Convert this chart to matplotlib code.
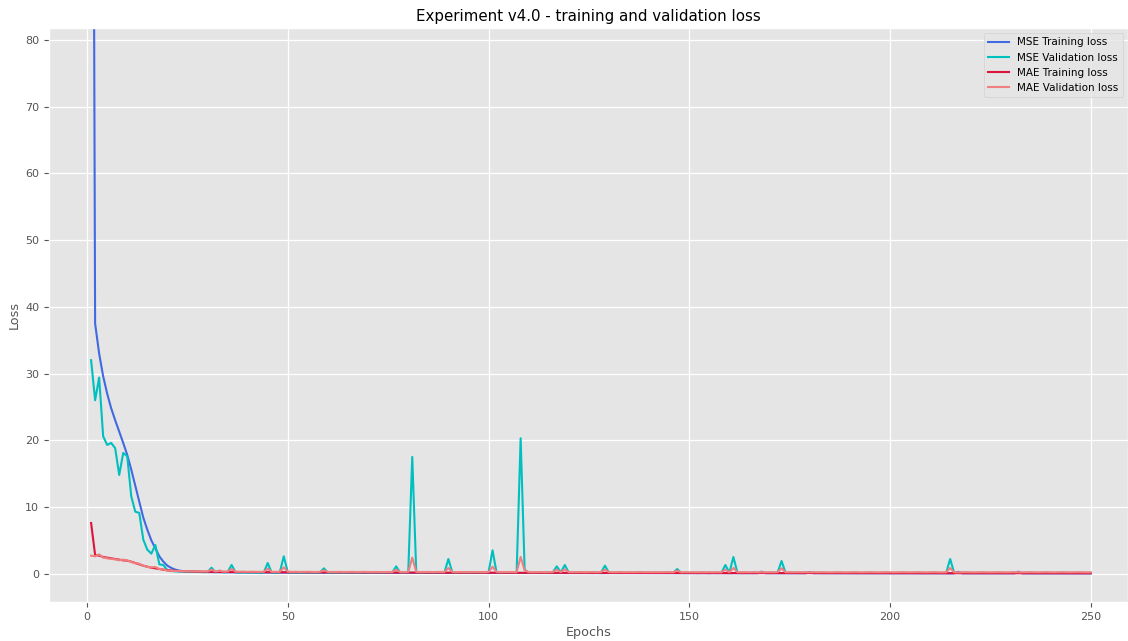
import numpy as np
import matplotlib
matplotlib.use('Agg')
from matplotlib import pyplot as plt

# loss values per epoch (1..250)
mse_train = [
    220, 37.5, 33.0, 29.6, 27.0, 24.8, 23.0, 21.3, 19.6, 17.8,
    15.6, 13.2, 10.8, 8.4, 6.6, 5.0, 3.8, 2.6, 1.8, 1.2,
    0.85, 0.6, 0.45, 0.38, 0.33, 0.30, 0.28, 0.26, 0.25, 0.24,
    0.23, 0.22, 0.22, 0.21, 0.20, 0.20, 0.19, 0.19, 0.18, 0.18,
    0.18, 0.17, 0.17, 0.17, 0.16, 0.16, 0.16, 0.15, 0.15, 0.15,
    0.15, 0.14, 0.15, 0.14, 0.14, 0.15, 0.14, 0.13, 0.14, 0.14,
    0.13, 0.14, 0.13, 0.13, 0.14, 0.13, 0.13, 0.12, 0.13, 0.13,
    0.12, 0.13, 0.12, 0.12, 0.13, 0.12, 0.12, 0.13, 0.12, 0.12,
    0.12, 0.11, 0.12, 0.12, 0.11, 0.12, 0.11, 0.11, 0.12, 0.11,
    0.11, 0.12, 0.11, 0.11, 0.10, 0.11, 0.11, 0.10, 0.11, 0.10,
    0.11, 0.10, 0.10, 0.11, 0.10, 0.10, 0.11, 0.10, 0.10, 0.10,
    0.10, 0.09, 0.10, 0.10, 0.09, 0.10, 0.09, 0.10, 0.09, 0.09,
    0.10, 0.09, 0.09, 0.09, 0.10, 0.09, 0.09, 0.08, 0.09, 0.09,
    0.09, 0.08, 0.09, 0.09, 0.08, 0.09, 0.08, 0.08, 0.09, 0.08,
    0.08, 0.09, 0.08, 0.08, 0.08, 0.09, 0.08, 0.08, 0.07, 0.08,
    0.08, 0.07, 0.08, 0.08, 0.07, 0.08, 0.07, 0.08, 0.07, 0.07,
    0.08, 0.07, 0.07, 0.07, 0.08, 0.07, 0.07, 0.30, 0.07, 0.07,
    0.07, 0.06, 0.07, 0.07, 0.06, 0.07, 0.06, 0.07, 0.06, 0.25,
    0.06, 0.07, 0.06, 0.06, 0.06, 0.07, 0.06, 0.06, 0.06, 0.06,
    0.06, 0.06, 0.05, 0.06, 0.06, 0.05, 0.06, 0.06, 0.05, 0.06,
    0.05, 0.06, 0.05, 0.05, 0.06, 0.05, 0.05, 0.05, 0.06, 0.05,
    0.05, 0.05, 0.05, 0.05, 0.04, 0.05, 0.28, 0.05, 0.05, 0.04,
    0.05, 0.04, 0.05, 0.05, 0.04, 0.05, 0.04, 0.05, 0.04, 0.04,
    0.05, 0.30, 0.04, 0.04, 0.05, 0.04, 0.04, 0.04, 0.05, 0.04,
    0.04, 0.04, 0.04, 0.05, 0.04, 0.04, 0.04, 0.04, 0.04, 0.04,
]

mse_val = [
    32.0, 26.0, 29.4, 20.6, 19.3, 19.6, 18.8, 14.8, 18.1, 17.6,
    11.6, 9.3, 9.1, 5.1, 3.6, 3.0, 4.3, 1.4, 1.3, 0.5,
    0.40, 0.35, 0.30, 0.30, 0.28, 0.25, 0.30, 0.25, 0.22, 0.25,
    0.90, 0.20, 0.45, 0.20, 0.25, 1.30, 0.20, 0.15, 0.20, 0.15,
    0.20, 0.15, 0.12, 0.15, 1.60, 0.12, 0.15, 0.20, 2.60, 0.20,
    0.15, 0.20, 0.12, 0.15, 0.20, 0.15, 0.12, 0.20, 0.80, 0.15,
    0.12, 0.15, 0.20, 0.12, 0.15, 0.20, 0.12, 0.15, 0.20, 0.15,
    0.12, 0.20, 0.15, 0.12, 0.20, 0.15, 1.10, 0.15, 0.12, 0.20,
    17.5, 0.20, 0.12, 0.15, 0.20, 0.12, 0.15, 0.20, 0.15, 2.20,
    0.15, 0.12, 0.20, 0.15, 0.12, 0.15, 0.20, 0.12, 0.15, 0.20,
    3.50, 0.20, 0.12, 0.15, 0.20, 0.15, 0.12, 20.3, 0.60, 0.15,
    0.12, 0.15, 0.20, 0.12, 0.15, 0.20, 1.10, 0.20, 1.30, 0.15,
    0.12, 0.15, 0.20, 0.12, 0.15, 0.20, 0.12, 0.15, 1.20, 0.15,
    0.12, 0.15, 0.20, 0.12, 0.15, 0.12, 0.15, 0.20, 0.12, 0.15,
    0.12, 0.15, 0.12, 0.15, 0.20, 0.12, 0.70, 0.12, 0.15, 0.12,
    0.15, 0.12, 0.15, 0.12, 0.15, 0.12, 0.15, 0.12, 1.30, 0.15,
    2.50, 0.15, 0.12, 0.15, 0.12, 0.15, 0.12, 0.15, 0.12, 0.15,
    0.12, 0.15, 1.90, 0.12, 0.15, 0.12, 0.15, 0.12, 0.15, 0.12,
    0.15, 0.12, 0.15, 0.12, 0.10, 0.12, 0.15, 0.12, 0.10, 0.12,
    0.15, 0.12, 0.10, 0.12, 0.15, 0.12, 0.10, 0.12, 0.15, 0.12,
    0.10, 0.12, 0.15, 0.12, 0.10, 0.12, 0.15, 0.12, 0.10, 0.12,
    0.15, 0.12, 0.10, 0.12, 2.20, 0.12, 0.10, 0.12, 0.15, 0.12,
    0.10, 0.12, 0.15, 0.12, 0.10, 0.12, 0.15, 0.12, 0.10, 0.12,
    0.15, 0.12, 0.10, 0.12, 0.15, 0.12, 0.10, 0.12, 0.15, 0.12,
    0.10, 0.12, 0.15, 0.12, 0.10, 0.12, 0.15, 0.12, 0.10, 0.12,
]

mae_train = [
    7.6, 2.8, 2.7, 2.5, 2.4, 2.3, 2.2, 2.1, 2.0, 1.95,
    1.8, 1.6, 1.4, 1.2, 1.05, 0.9, 0.8, 0.7, 0.6, 0.52,
    0.46, 0.42, 0.39, 0.36, 0.34, 0.32, 0.31, 0.30, 0.29, 0.28,
    0.28, 0.27, 0.27, 0.26, 0.26, 0.25, 0.25, 0.25, 0.24, 0.24,
    0.24, 0.23, 0.23, 0.23, 0.22, 0.22, 0.22, 0.22, 0.21, 0.21,
    0.21, 0.21, 0.20, 0.21, 0.20, 0.20, 0.20, 0.19, 0.20, 0.19,
    0.19, 0.19, 0.19, 0.18, 0.19, 0.18, 0.18, 0.18, 0.18, 0.17,
    0.18, 0.17, 0.17, 0.17, 0.17, 0.17, 0.16, 0.17, 0.16, 0.16,
    0.16, 0.16, 0.16, 0.16, 0.15, 0.16, 0.15, 0.15, 0.15, 0.15,
    0.15, 0.15, 0.15, 0.14, 0.15, 0.14, 0.14, 0.14, 0.14, 0.14,
    0.14, 0.14, 0.14, 0.13, 0.14, 0.13, 0.13, 0.13, 0.13, 0.13,
    0.13, 0.13, 0.13, 0.13, 0.12, 0.13, 0.12, 0.12, 0.12, 0.12,
    0.12, 0.12, 0.12, 0.12, 0.12, 0.11, 0.12, 0.11, 0.11, 0.11,
    0.11, 0.11, 0.11, 0.11, 0.11, 0.11, 0.10, 0.11, 0.10, 0.10,
    0.10, 0.10, 0.10, 0.10, 0.10, 0.10, 0.10, 0.10, 0.10, 0.10,
    0.10, 0.09, 0.10, 0.09, 0.09, 0.10, 0.09, 0.09, 0.09, 0.09,
    0.09, 0.09, 0.09, 0.09, 0.09, 0.09, 0.09, 0.09, 0.09, 0.09,
    0.09, 0.08, 0.09, 0.08, 0.08, 0.09, 0.08, 0.08, 0.08, 0.08,
    0.08, 0.08, 0.08, 0.08, 0.08, 0.08, 0.08, 0.08, 0.08, 0.08,
    0.08, 0.07, 0.08, 0.07, 0.08, 0.07, 0.07, 0.08, 0.07, 0.07,
    0.07, 0.07, 0.07, 0.07, 0.07, 0.07, 0.07, 0.07, 0.07, 0.07,
    0.07, 0.07, 0.07, 0.07, 0.07, 0.07, 0.07, 0.07, 0.07, 0.07,
    0.07, 0.06, 0.07, 0.06, 0.07, 0.06, 0.06, 0.07, 0.06, 0.06,
    0.06, 0.06, 0.06, 0.06, 0.06, 0.06, 0.06, 0.06, 0.06, 0.06,
    0.06, 0.06, 0.06, 0.06, 0.06, 0.06, 0.06, 0.06, 0.06, 0.06,
]

mae_val = [
    2.7, 2.6, 2.9, 2.4, 2.3, 2.2, 2.15, 2.0, 2.1, 2.0,
    1.75, 1.55, 1.5, 1.2, 1.0, 0.95, 1.0, 0.7, 0.65, 0.45,
    0.42, 0.40, 0.38, 0.38, 0.37, 0.35, 0.36, 0.34, 0.33, 0.34,
    0.60, 0.32, 0.45, 0.31, 0.32, 0.70, 0.30, 0.29, 0.30, 0.28,
    0.29, 0.28, 0.27, 0.28, 0.75, 0.27, 0.28, 0.29, 0.95, 0.30,
    0.27, 0.28, 0.26, 0.27, 0.28, 0.26, 0.25, 0.27, 0.50, 0.26,
    0.25, 0.26, 0.27, 0.25, 0.26, 0.27, 0.25, 0.26, 0.27, 0.25,
    0.24, 0.26, 0.25, 0.24, 0.26, 0.25, 0.60, 0.25, 0.24, 0.26,
    2.40, 0.27, 0.24, 0.25, 0.26, 0.24, 0.25, 0.26, 0.25, 0.85,
    0.25, 0.23, 0.25, 0.24, 0.23, 0.24, 0.25, 0.23, 0.24, 0.25,
    1.05, 0.26, 0.23, 0.24, 0.25, 0.24, 0.23, 2.50, 0.50, 0.24,
    0.22, 0.23, 0.24, 0.22, 0.23, 0.24, 0.60, 0.24, 0.65, 0.23,
    0.22, 0.23, 0.24, 0.22, 0.23, 0.24, 0.22, 0.23, 0.60, 0.23,
    0.21, 0.22, 0.23, 0.21, 0.22, 0.21, 0.22, 0.23, 0.21, 0.22,
    0.21, 0.22, 0.21, 0.22, 0.23, 0.21, 0.45, 0.21, 0.22, 0.21,
    0.22, 0.21, 0.22, 0.21, 0.22, 0.21, 0.22, 0.21, 0.60, 0.22,
    0.85, 0.22, 0.21, 0.22, 0.21, 0.22, 0.21, 0.22, 0.21, 0.22,
    0.21, 0.22, 0.80, 0.21, 0.22, 0.21, 0.22, 0.21, 0.22, 0.21,
    0.22, 0.21, 0.22, 0.21, 0.20, 0.21, 0.22, 0.21, 0.20, 0.21,
    0.22, 0.21, 0.20, 0.21, 0.22, 0.21, 0.20, 0.21, 0.22, 0.21,
    0.20, 0.21, 0.22, 0.21, 0.20, 0.21, 0.22, 0.21, 0.20, 0.21,
    0.22, 0.21, 0.20, 0.21, 0.85, 0.21, 0.20, 0.21, 0.22, 0.21,
    0.20, 0.21, 0.22, 0.21, 0.20, 0.21, 0.22, 0.21, 0.20, 0.21,
    0.22, 0.21, 0.20, 0.21, 0.22, 0.21, 0.20, 0.21, 0.22, 0.21,
    0.20, 0.21, 0.22, 0.21, 0.20, 0.21, 0.22, 0.21, 0.20, 0.21,
]

epochs = np.arange(1, len(mse_train) + 1)


def main():
    plt.style.use('ggplot')
    fig = plt.figure(figsize=(11.28, 6.41), dpi=100)
    ax = fig.add_axes([0.0434, 0.0608, 0.9566, 0.8955])

    ax.plot(epochs, mse_train, color='royalblue', lw=1.5, label='MSE Training loss')
    ax.plot(epochs, mse_val, color='c', lw=1.5, label='MSE Validation loss')
    ax.plot(epochs, mae_train, color='crimson', lw=1.5, label='MAE Training loss')
    ax.plot(epochs, mae_val, color='lightcoral', lw=1.5, label='MAE Validation loss')

    ax.set_xlim(-9.5, 259.3)
    ax.set_ylim(-4.25, 81.8)
    ax.set_xticks(np.arange(0, 251, 50))
    ax.set_yticks(np.arange(0, 81, 10))
    ax.tick_params(labelsize=8, colors='#555555')
    ax.grid(True, color='white', lw=0.9)

    ax.set_title('Experiment v4.0 - training and validation loss', fontsize=10.8, color='black', pad=5)
    ax.set_xlabel('Epochs', fontsize=9.2, color='#555555', labelpad=3)
    ax.set_ylabel('Loss', fontsize=9.2, color='#555555', labelpad=3)
    ax.legend(loc='upper right', fontsize=7.5)

    fig.savefig('out.png', dpi=100)


if __name__ == "__main__":
    main()
